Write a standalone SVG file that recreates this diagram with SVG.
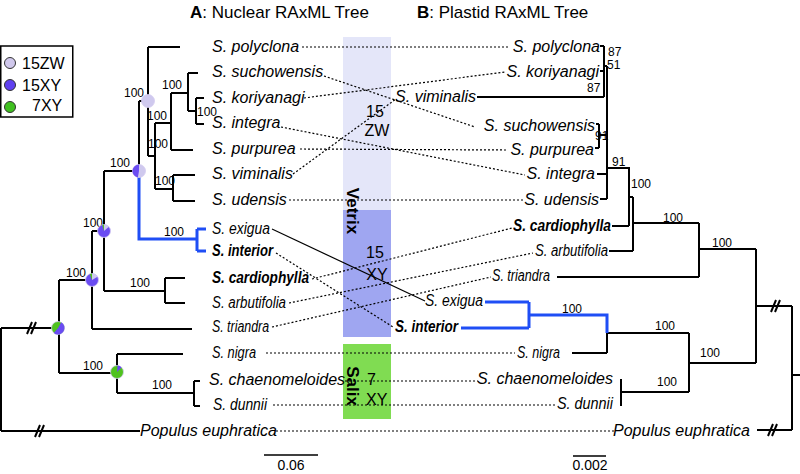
<svg xmlns="http://www.w3.org/2000/svg" width="800" height="474" viewBox="0 0 800 474">
<style>
text{font-family:"Liberation Sans",Arial,sans-serif;fill:#000}
.lab{font-size:16px;font-style:italic}
.b{font-weight:bold}
.num{font-size:12px}
.hdr{font-size:17px}
.tr{fill:none;stroke:#000;stroke-width:2}
.blue{fill:none;stroke:#1f4ef5;stroke-width:3}
.dot{fill:none;stroke:#000;stroke-width:1.2;stroke-dasharray:2 2}
.pl{fill:#cfc9ee}.pp{fill:#6a4cf2}.pg{fill:#4fc21e}
.pie{stroke:#d4ccf0;stroke-width:0.8}
</style>
<rect width="800" height="474" fill="#fff"/>
<g id="headers">
<text class="hdr" x="190" y="18"><tspan font-weight="bold">A</tspan>: Nuclear RAxML Tree</text>
<text class="hdr" x="417" y="18"><tspan font-weight="bold">B</tspan>: Plastid RAxML Tree</text>
</g>
<g id="legend">
<rect x="0.75" y="46" width="72" height="71" fill="#fff" stroke="#000" stroke-width="1.5"/>
<circle cx="10" cy="63" r="5.5" fill="#d0c8ec" stroke="#333" stroke-width="1"/>
<circle cx="10" cy="85" r="5.5" fill="#6040f0" stroke="#333" stroke-width="1"/>
<circle cx="10" cy="107" r="5.5" fill="#40c020" stroke="#333" stroke-width="1"/>
<text x="22" y="69" font-size="16">15ZW</text>
<text x="22" y="91" font-size="16">15XY</text>
<text x="32" y="111" font-size="16">7XY</text>
</g>
<g id="boxes">
<rect id="box-zw" x="343" y="37" width="48" height="173" fill="#e4e6f9"/>
<rect id="box-xy" x="343" y="210" width="48" height="127" fill="#9fa6f1"/>
<rect id="box-salix" x="343" y="344" width="48" height="75" fill="#80dc52"/>
</g>
<g id="connectors">
<path class="dot" d="M302,47 L510,47"/>
<path class="dot" d="M324,76 L475,127"/>
<path class="dot" d="M304,98 L505,72"/>
<path class="dot" d="M281,127 L525,175"/>
<path class="dot" d="M300,149 L508,150"/>
<path class="dot" d="M293,174 L396,99"/>
<path class="dot" d="M289,200 L523,200"/>
<path fill="none" stroke="#000" stroke-width="1.2" d="M272,229 L425,301"/>
<path class="dot" stroke-width="1.8" d="M276,253 L393,327"/>
<path class="dot" d="M312,279 L512,228"/>
<path class="dot" d="M289,303 L533,253"/>
<path class="dot" d="M272,327 L491,277"/>
<path class="dot" d="M266,353 L515,353"/>
<path class="dot" stroke-dasharray="1 1.5" d="M345,381 L478,381"/>
<path class="dot" d="M273,405 L555,405"/>
<path class="dot" d="M276,431 L615,431"/>
</g>
<g id="box-labels">
<text x="375" y="117" font-size="16" text-anchor="middle">15</text>
<text x="377" y="136" font-size="16" text-anchor="middle">ZW</text>
<text x="375" y="258" font-size="16" text-anchor="middle">15</text>
<text x="377" y="280" font-size="16" text-anchor="middle">XY</text>
<text x="367" y="385" font-size="16">7</text>
<text x="366" y="405" font-size="16">XY</text>
<text class="b" font-size="17" text-anchor="middle" transform="translate(347,211) rotate(90)">Vetrix</text>
<text class="b" font-size="17" text-anchor="middle" transform="translate(347,386) rotate(90)">Salix</text>
</g>
<g id="nuclear-tree">
<path class="tr" d="M1,328V431M1,328H58M1,431H140M59,280V373M59,280H92M59,373H117M92,231V329M92,231H104M92,329H192M104,171V291M104,171H139M104,291H165M165,278V303M165,278H185M165,303H185M139,101V171M139,101H148M148,47V156M148,47H180M148,156H155M155,123V189M155,123H171M155,189H173M173,175V201M173,175H195M173,201H195M171,93V150M171,93H188M171,150H193M188,73V111M188,73H198M188,111H196M196,98V124M196,98H204M196,124H204M117,354V393M117,354H183M117,393H194M194,381V406M194,381H200M194,406H200"/>
<path class="blue" d="M139,171V239H197M197,229V251M197,229H206M197,251H206"/>
<path class="tr" stroke-width="1.3" d="M27,334L32,322M31,334L36,322M35,437L40,425M39,437L44,425"/>
</g>
<g id="nuclear-support">
<text class="num" x="124" y="97">100</text>
<text class="num" x="162" y="89">100</text>
<text class="num" x="197" y="116">100</text>
<text class="num" x="147" y="120">100</text>
<text class="num" x="148" y="148">100</text>
<text class="num" x="155" y="185">100</text>
<text class="num" x="110" y="167">100</text>
<text class="num" x="83" y="227">100</text>
<text class="num" x="164" y="236">100</text>
<text class="num" x="66" y="277">100</text>
<text class="num" x="130" y="287">100</text>
<text class="num" x="83" y="370">100</text>
<text class="num" x="152" y="389">100</text>
</g>
<g id="pie-zw">
<circle class="pl pie" cx="148" cy="101" r="6.5"/>
</g>
<g id="pie-vetrix">
<circle class="pl pie" cx="139" cy="171" r="6.5"/>
<path class="pp" d="M139,171L137.87,177.4A6.5,6.5 0 0 1 139,164.5Z"/>
</g>
<g id="pie-3">
<circle class="pp pie" cx="104" cy="231" r="6.5"/>
<path class="pl" d="M104,231L104,224.5A6.5,6.5 0 0 1 108.98,226.82Z"/>
<path class="pg" d="M104,231L102.32,224.72A6.5,6.5 0 0 1 104,224.5Z"/>
</g>
<g id="pie-4">
<circle class="pp pie" cx="92" cy="280" r="6.5"/>
<path class="pl" d="M92,280L92,273.5A6.5,6.5 0 0 1 97.63,276.75Z"/>
<path class="pg" d="M92,280L89.78,273.89A6.5,6.5 0 0 1 92,273.5Z"/>
</g>
<g id="pie-root">
<circle class="pg pie" cx="58" cy="328" r="6.5"/>
<path class="pp" d="M58,328L61.25,322.37A6.5,6.5 0 1 1 53.82,332.98Z"/>
</g>
<g id="pie-salix">
<circle class="pg pie" cx="117" cy="372" r="6.5"/>
<path class="pp" d="M117,372L117.57,365.52A6.5,6.5 0 0 1 121.6,367.4Z"/>
</g>
<g id="nuclear-labels">
<g id="nA-polyclona"><text class="lab" x="212" y="52">S. polyclona</text></g>
<g id="nA-suchowensis"><text class="lab" x="212" y="77">S. suchowensis</text></g>
<g id="nA-koriyanagi"><text class="lab" x="212" y="103">S. koriyanagi</text></g>
<g id="nA-integra"><text class="lab" x="212" y="128">S. integra</text></g>
<g id="nA-purpurea"><text class="lab" x="212" y="154">S. purpurea</text></g>
<g id="nA-viminalis"><text class="lab" x="212" y="179">S. viminalis</text></g>
<g id="nA-udensis"><text class="lab" x="212" y="205">S. udensis</text></g>
<g id="nA-exigua"><text class="lab" x="212" y="234" textLength="58" lengthAdjust="spacingAndGlyphs">S. exigua</text></g>
<g id="nA-interior"><text class="lab b" x="212" y="256" textLength="61" lengthAdjust="spacingAndGlyphs">S. interior</text></g>
<g id="nA-cardiophylla"><text class="lab b" x="212" y="283" textLength="97" lengthAdjust="spacingAndGlyphs">S. cardiophylla</text></g>
<g id="nA-arbutifolia"><text class="lab" x="212" y="308" textLength="74" lengthAdjust="spacingAndGlyphs">S. arbutifolia</text></g>
<g id="nA-triandra"><text class="lab" x="212" y="332" textLength="57" lengthAdjust="spacingAndGlyphs">S. triandra</text></g>
<g id="nA-nigra"><text class="lab" x="212" y="358" textLength="44" lengthAdjust="spacingAndGlyphs">S. nigra</text></g>
<g id="nA-chaenomeloides"><text class="lab" x="209" y="385">S. chaenomeloides</text></g>
<g id="nA-dunnii"><text class="lab" x="213" y="410" textLength="54" lengthAdjust="spacingAndGlyphs">S. dunnii</text></g>
<g id="nA-populus"><text class="lab" x="140" y="436">Populus euphratica</text></g>
</g>
<g id="plastid-tree">
<path class="tr" d="M600,46H604M600,71H604M477,97H604M604,46V97M604,66H607M607,66V199M599,135H607M599,124V148M596,124H599M595,148H599M597,174H607M600,199H607M607,168H629V226M629,197H633M633,197V251M609,251H633M633,223H699M699,223V277M557,277H699M699,249H756M756,249V363M689,363H756M756,306H792M792,306V430M757,430H792M792,375H800M689,333V392M607,333H689M621,392H689M607,333V353M572,353H607"/>
<path class="tr" stroke-width="2.5" d="M612,226H629M621,379V406"/>
<path class="blue" d="M607,333V315H529M529,302V328M485,302H529M461,328H529"/>
<path class="tr" stroke-width="1.3" d="M771,312L776,300M775,312L780,300M768,436L773,424M772,436L777,424"/>
</g>
<g id="plastid-support">
<text class="num" x="608" y="56" font-size="11">87</text>
<text class="num" x="607" y="69" font-size="11">51</text>
<text class="num" x="587" y="92">87</text>
<text class="num" x="595" y="140" font-size="11">91</text>
<text class="num" x="612" y="166">91</text>
<text class="num" x="631" y="188">100</text>
<text class="num" x="663" y="222">100</text>
<text class="num" x="712" y="247">100</text>
<text class="num" x="562" y="313">100</text>
<text class="num" x="655" y="330">100</text>
<text class="num" x="700" y="357">100</text>
<text class="num" x="657" y="386">100</text>
</g>
<g id="plastid-labels">
<g id="nB-polyclona"><text class="lab" x="600" y="52" text-anchor="end">S. polyclona</text></g>
<g id="nB-koriyanagi"><text class="lab" x="599" y="77" text-anchor="end">S. koriyanagi</text></g>
<g id="nB-viminalis"><text class="lab" x="476" y="102" text-anchor="end">S. viminalis</text></g>
<g id="nB-suchowensis"><text class="lab" x="595" y="131" text-anchor="end">S. suchowensis</text></g>
<g id="nB-purpurea"><text class="lab" x="594" y="155" text-anchor="end">S. purpurea</text></g>
<g id="nB-integra"><text class="lab" x="595" y="179" text-anchor="end">S. integra</text></g>
<g id="nB-udensis"><text class="lab" x="599" y="205" text-anchor="end">S. udensis</text></g>
<g id="nB-cardiophylla"><text class="lab b" x="513" y="231" textLength="98" lengthAdjust="spacingAndGlyphs">S. cardiophylla</text></g>
<g id="nB-arbutifolia"><text class="lab" x="535" y="256" textLength="73" lengthAdjust="spacingAndGlyphs">S. arbutifolia</text></g>
<g id="nB-triandra"><text class="lab" x="492" y="281" textLength="58" lengthAdjust="spacingAndGlyphs">S. triandra</text></g>
<g id="nB-exigua"><text class="lab" x="425" y="306" textLength="58" lengthAdjust="spacingAndGlyphs">S. exigua</text></g>
<g id="nB-interior"><text class="lab b" x="395" y="332" textLength="63" lengthAdjust="spacingAndGlyphs">S. interior</text></g>
<g id="nB-nigra"><text class="lab" x="517" y="358" textLength="43" lengthAdjust="spacingAndGlyphs">S. nigra</text></g>
<g id="nB-chaenomeloides"><text class="lab" x="613" y="384" text-anchor="end">S. chaenomeloides</text></g>
<g id="nB-dunnii"><text class="lab" x="557" y="409" textLength="56" lengthAdjust="spacingAndGlyphs">S. dunnii</text></g>
<g id="nB-populus"><text class="lab" x="750" y="436" text-anchor="end">Populus euphratica</text></g>
</g>
<g id="scales">
<path stroke="#000" stroke-width="1.5" d="M264,455H318M573,456H606"/>
<text x="291" y="470" font-size="14" text-anchor="middle">0.06</text>
<text x="590" y="470" font-size="14" text-anchor="middle">0.002</text>
</g>
</svg>
